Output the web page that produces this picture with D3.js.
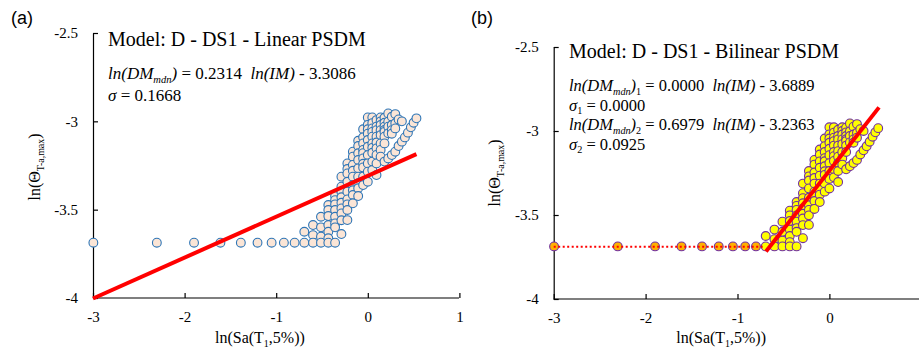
<!DOCTYPE html>
<html>
<head>
<meta charset="utf-8">
<script src="https://cdn.jsdelivr.net/npm/d3@7"></script>
<style>
  body { margin: 0; background: #fff; }
  svg { display: block; }
  .tick text { font-family: "Liberation Serif", "Times New Roman", serif; font-size: 15px; fill: #000; }
  .serif { font-family: "Liberation Serif", "Times New Roman", serif; fill: #000; }
  .panel-tag { font-family: "Liberation Sans", Arial, sans-serif; font-size: 18px; fill: #000; }
</style>
</head>
<body>
<div id="chart"></div>
<script>
"use strict"

// ln(Sa(T1,5%)) levels
const lnSa = [-2.996, -2.303, -1.897, -1.609, -1.386, -1.204, -1.050, -0.916, -0.799,
  -0.693, -0.598, -0.511, -0.431, -0.357, -0.288, -0.223, -0.163, -0.105, -0.051,
  0.000, 0.049, 0.095, 0.140, 0.182, 0.223, 0.262, 0.300, 0.336, 0.372, 0.405,
  0.438, 0.470, 0.500, 0.531];

// ln(theta) responses read at each level
const lnTheta = [
  [-3.687], [-3.687], [-3.687], [-3.687], [-3.687], [-3.687], [-3.687], [-3.687], [-3.687],
  [-3.625, -3.687],
  [-3.587, -3.644, -3.687],
  [-3.540, -3.600, -3.653, -3.687],
  [-3.474, -3.502, -3.536, -3.587, -3.625, -3.662, -3.687],
  [-3.423, -3.446, -3.470, -3.502, -3.540, -3.578, -3.600, -3.687],
  [-3.313, -3.370, -3.400, -3.430, -3.461, -3.493, -3.521, -3.560, -3.638],
  [-3.238, -3.270, -3.295, -3.342, -3.398, -3.442, -3.470, -3.502, -3.559],
  [-3.172, -3.200, -3.247, -3.280, -3.313, -3.361, -3.390, -3.417, -3.464],
  [-3.110, -3.140, -3.181, -3.219, -3.266, -3.313, -3.350, -3.379, -3.423],
  [-3.045, -3.090, -3.125, -3.162, -3.180, -3.210, -3.240, -3.261, -3.313, -3.361],
  [-2.978, -3.020, -3.045, -3.070, -3.106, -3.144, -3.191, -3.238, -3.285, -3.342],
  [-2.978, -3.010, -3.040, -3.060, -3.087, -3.125, -3.150, -3.178, -3.228, -3.276],
  [-2.993, -3.030, -3.050, -3.087, -3.120, -3.153, -3.190, -3.238, -3.304],
  [-2.978, -3.000, -3.021, -3.050, -3.078, -3.125, -3.162, -3.200],
  [-2.980, -3.008, -3.030, -3.049, -3.060, -3.087, -3.125, -3.228],
  [-2.955, -3.002, -3.030, -3.068, -3.210],
  [-2.974, -3.021, -3.050, -3.070, -3.191],
  [-2.959, -3.011, -3.040, -3.172],
  [-2.989, -3.140],
  [-3.000, -3.115],
  [-3.091],
  [-3.064],
  [-3.034],
  [-3.008],
  [-2.983]
];

// fits: [slope, intercept, xStart, xEnd]
const linearFit = [0.2314, -3.3086, -3.0, 0.531];
const bilinearFit1 = [0.0000, -3.6889, -3.0, -0.70];
const bilinearFit2 = [0.6979, -3.2363, -0.69, 0.54];
const breakLnSa = -0.75;

const yTicks = [-2.5, -3, -3.5, -4];

let points = [];
lnSa.forEach((x, i) => lnTheta[i].forEach(y => points.push({x: x, y: y})));

const svg = d3.select('#chart').append('svg')
  .attr('width', 919)
  .attr('height', 350);

function richText(g, x, y, parts, size, anchor) {
  let t = g.append('text')
    .attr('class', 'serif')
    .attr('x', x).attr('y', y)
    .style('font-size', size + 'px')
    .attr('text-anchor', anchor || 'start');
  let shifted = 0;
  parts.forEach(p => {
    let s = t.append('tspan').text(p.t);
    if (p.i) s.style('font-style', 'italic');
    if (p.sub) {
      s.style('font-size', (size * 0.62) + 'px');
      if (!shifted) { shifted = size * 0.22; s.attr('dy', shifted); }
    } else if (shifted) {
      s.attr('dy', -shifted); shifted = 0;
    }
  });
  return t;
}

function drawPanel(cfg) {
  const g = svg.append('g');

  const xScale = d3.scaleLinear().domain([-3, 1]).range([cfg.left, cfg.left + 4 * cfg.xUnit]);
  const yScale = d3.scaleLinear().domain([-2.5, -4]).range([cfg.top, cfg.bottom]);

  const xAxis = d3.axisBottom(xScale)
    .tickValues(cfg.xTicks)
    .tickFormat(d => String(d))
    .tickSizeInner(-5).tickSizeOuter(0).tickPadding(13);
  const yAxis = d3.axisLeft(yScale)
    .tickValues(yTicks)
    .tickFormat(d => String(d))
    .tickSizeInner(-5).tickSizeOuter(0).tickPadding(15);

  g.append('g')
    .attr('transform', 'translate(0,' + cfg.bottom + ')')
    .call(xAxis)
    .call(a => a.select('.domain').attr('d', 'M' + cfg.left + ',0H' + cfg.xEnd));
  g.append('g')
    .attr('transform', 'translate(' + cfg.left + ',0)')
    .call(yAxis);
  g.selectAll('.domain, .tick line').attr('stroke', '#000').attr('stroke-width', 1.2);

  // scatter
  g.append('g').selectAll('circle')
    .data(points)
    .enter().append('circle')
    .attr('cx', d => xScale(d.x))
    .attr('cy', d => yScale(d.y))
    .attr('r', 4.4)
    .attr('fill', d => cfg.fill(d))
    .attr('stroke', cfg.stroke)
    .attr('stroke-width', 1.1);

  // fit lines
  cfg.fits.forEach(f => {
    g.append('line')
      .attr('x1', xScale(f.c[2])).attr('y1', yScale(f.c[0] * f.c[2] + f.c[1]))
      .attr('x2', xScale(f.c[3])).attr('y2', yScale(f.c[0] * f.c[3] + f.c[1]))
      .attr('stroke', '#ff0000')
      .attr('stroke-width', f.w)
      .attr('stroke-dasharray', f.dash || null);
  });

  // labels
  g.append('text').attr('class', 'panel-tag')
    .attr('x', cfg.tagX).attr('y', 24).text(cfg.tag);

  g.append('text').attr('class', 'serif')
    .attr('x', cfg.textX).attr('y', cfg.titleY)
    .style('font-size', '20px')
    .text(cfg.title);

  cfg.lines.forEach((ln, i) => richText(g, cfg.textX, cfg.lineY[i], ln, cfg.eqSize));

  richText(g, xScale(-3) + (xScale(0) - xScale(-3)) * 0.6 + 2, 343,
    [{t: 'ln(Sa(T'}, {t: '1', sub: true}, {t: ',5%))'}], 16, 'middle');

  richText(g.append('g').attr('transform', 'translate(' + cfg.yLabelX + ',' + cfg.yLabelY + ') rotate(-90)'),
    0, 0, [{t: 'ln(\u0398'}, {t: 'T-a,max', sub: true}, {t: ')'}], 16, 'middle');
}

const eq = (sub, slope, icpt) => {
  let p = [{t: 'ln(DM', i: true}, {t: 'mdn', i: true, sub: true}, {t: ')', i: true}];
  if (sub) p.push({t: sub, sub: true});
  p.push({t: ' = ' + slope + '\u00a0 '}, {t: 'ln(IM)', i: true}, {t: ' - ' + icpt});
  return p;
};
const sig = (sub, v) => {
  let p = [{t: '\u03c3', i: true}];
  if (sub) p.push({t: sub, sub: true});
  p.push({t: ' = ' + v});
  return p;
};

drawPanel({
  left: 93, xUnit: 91.6, xEnd: 459, top: 33, bottom: 298,
  xTicks: [-3, -2, -1, 0, 1],
  fill: d => '#fbe5d6', stroke: '#2e75b6',
  fits: [{c: linearFit, w: 4}],
  tag: '(a)', tagX: 11,
  title: 'Model: D - DS1 - Linear PSDM', textX: 108, titleY: 46,
  lines: [eq(null, '0.2314', '3.3086'), sig(null, '0.1668')],
  lineY: [79, 101], eqSize: 17,
  yLabelX: 40, yLabelY: 167
});

drawPanel({
  left: 553.7, xUnit: 91.9, xEnd: 919, top: 47, bottom: 299,
  xTicks: [-3, -2, -1, 0],
  fill: d => d.x < breakLnSa ? '#ffb000' : '#ffff00', stroke: '#7030a0',
  fits: [{c: bilinearFit1, w: 2, dash: '2,2.5'}, {c: bilinearFit2, w: 4}],
  tag: '(b)', tagX: 471,
  title: 'Model: D - DS1 - Bilinear PSDM', textX: 569, titleY: 58,
  lines: [eq('1', '0.0000', '3.6889'), sig('1', '0.0000'), eq('2', '0.6979', '3.2363'), sig('2', '0.0925')],
  lineY: [91, 110.5, 130, 149.5], eqSize: 16.5,
  yLabelX: 500, yLabelY: 173
});
</script>
</body>
</html>
